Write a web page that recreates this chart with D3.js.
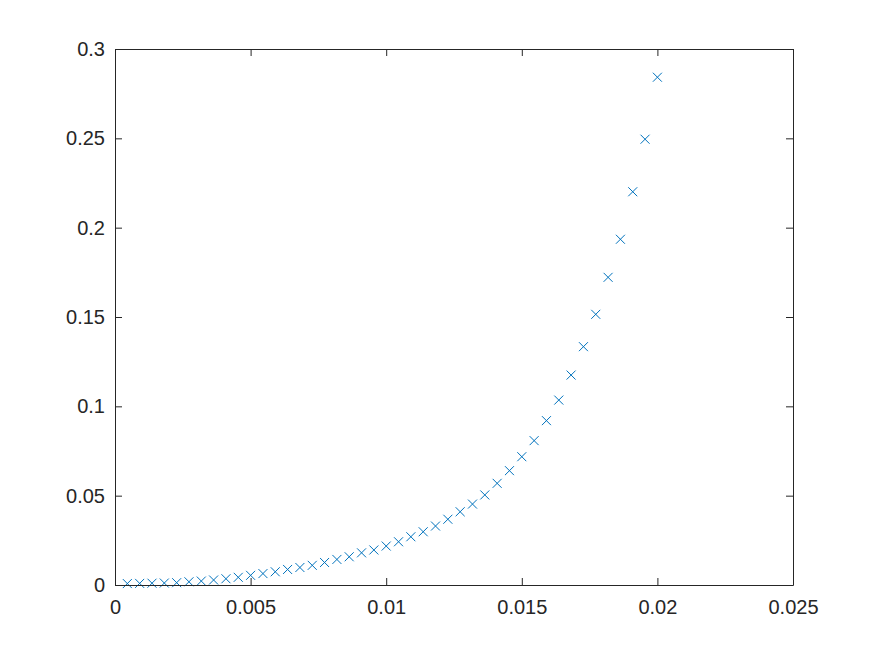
<!DOCTYPE html>
<html>
<head>
<meta charset="utf-8">
<script src="https://cdn.jsdelivr.net/npm/d3@7/dist/d3.min.js"></script>
<style>
  html, body { margin: 0; padding: 0; background: #ffffff; }
  svg { display: block; }
</style>
</head>
<body>
<svg id="chart" width="875" height="656"></svg>
<script>
const xValues = [0.000455, 0.000909, 0.001364, 0.001818, 0.002273, 0.002727, 0.003182, 0.003636,
  0.004091, 0.004545, 0.005, 0.005455, 0.005909, 0.006364, 0.006818, 0.007273, 0.007727,
  0.008182, 0.008636, 0.009091, 0.009545, 0.01, 0.010455, 0.010909, 0.011364, 0.011818,
  0.012273, 0.012727, 0.013182, 0.013636, 0.014091, 0.014545, 0.015, 0.015455, 0.015909,
  0.016364, 0.016818, 0.017273, 0.017727, 0.018182, 0.018636, 0.019091, 0.019545, 0.02];
const yValues = [0.0008, 0.0009, 0.0010, 0.0011, 0.0013, 0.0018, 0.0022, 0.0028, 0.0035, 0.0043,
  0.0054, 0.0064, 0.0074, 0.0087, 0.0098, 0.0110, 0.0126, 0.0143, 0.0158, 0.0180, 0.0196,
  0.0218, 0.0242, 0.0270, 0.0298, 0.0330, 0.0368, 0.0410, 0.0453, 0.0504, 0.0569, 0.0640,
  0.0718, 0.0808, 0.0920, 0.1035, 0.1175, 0.1334, 0.1515, 0.1722, 0.1935, 0.2201, 0.2495, 0.2842];
const xTicks = [0, 0.005, 0.01, 0.015, 0.02, 0.025];
const xTickLabels = ["0", "0.005", "0.01", "0.015", "0.02", "0.025"];
const yTicks = [0, 0.05, 0.1, 0.15, 0.2, 0.25, 0.3];
const yTickLabels = ["0", "0.05", "0.1", "0.15", "0.2", "0.25", "0.3"];

const W = 875, H = 656;
const margin = {left: 115, top: 49, right: 82, bottom: 71};
const iw = W - margin.left - margin.right;
const ih = H - margin.top - margin.bottom;
const axisColor = "#262626";
const fontFamily = "Arial, 'Liberation Sans', Helvetica, sans-serif";
const tickLen = 7;

const svg = d3.select("#chart");
const g = svg.append("g").attr("transform", `translate(${margin.left},${margin.top})`);

const x = d3.scaleLinear().domain([0, 0.025]).range([0, iw]);
const y = d3.scaleLinear().domain([0, 0.3]).range([ih, 0]);

// Markers
const data = xValues.map((v, i) => ({x: v, y: yValues[i]}));
const ms = 4.5;
g.append("g").selectAll("path").data(data).join("path")
  .attr("d", d => {
    const cx = x(d.x), cy = y(d.y);
    return `M${cx - ms},${cy - ms}L${cx + ms},${cy + ms}M${cx - ms},${cy + ms}L${cx + ms},${cy - ms}`;
  })
  .attr("stroke", "#0072BD")
  .attr("stroke-width", 1)
  .attr("fill", "none");

// Axes (bottom & left with labels, top & right mirrored ticks)
const xAxis = d3.axisBottom(x).tickValues(xTicks).tickFormat((d, i) => xTickLabels[i])
  .tickSizeInner(-tickLen).tickSizeOuter(0).tickPadding(15);
const yAxis = d3.axisLeft(y).tickValues(yTicks).tickFormat((d, i) => yTickLabels[i])
  .tickSizeInner(-tickLen).tickSizeOuter(0).tickPadding(10);
const xTop = d3.axisTop(x).tickValues(xTicks).tickFormat("").tickSizeInner(-tickLen).tickSizeOuter(0);
const yRight = d3.axisRight(y).tickValues(yTicks).tickFormat("").tickSizeInner(-tickLen).tickSizeOuter(0);

function style(sel) {
  sel.selectAll(".domain").attr("stroke", axisColor).attr("stroke-width", 1);
  sel.selectAll(".tick line").attr("stroke", axisColor).attr("stroke-width", 1);
  sel.selectAll(".tick text").attr("fill", axisColor)
    .style("font-family", fontFamily).style("font-size", "20px");
}

g.append("g").attr("transform", `translate(0,${ih})`).call(xAxis).call(style)
  .selectAll(".tick text").attr("dy", "0.71em");
g.append("g").call(yAxis).call(style);
g.append("g").call(xTop).call(style);
g.append("g").attr("transform", `translate(${iw},0)`).call(yRight).call(style);
</script>
</body>
</html>
